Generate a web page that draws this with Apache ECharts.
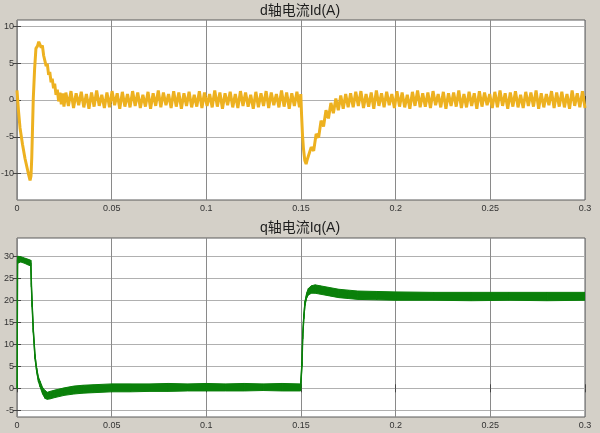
<!DOCTYPE html>
<html><head><meta charset="utf-8">
<script src="https://cdn.jsdelivr.net/npm/echarts@6/dist/echarts.min.js"></script>
<style>html,body{margin:0;padding:0;background:#d4d0c8;}#c{width:600px;height:433px;}</style>
</head><body><div id="c"></div>
<script>
// ---- data ----
const titles = ['d轴电流Id(A)', 'q轴电流Iq(A)'];
const xTicks = [0, 0.05, 0.1, 0.15, 0.2, 0.25, 0.3];
const idTicks = [-10, -5, 0, 5, 10];
const iqTicks = [-5, 0, 5, 10, 15, 20, 25, 30];
const idRange = [-13.57, 10.85];
const iqRange = [-6.52, 34.15];

// Id: start-up transient [t, value]
const idStart = [[0,1.3],[0.0008,-1.5],[0.0016,-3.8],[0.0029,-6.0],[0.0042,-7.9],[0.0055,-9.4],[0.0062,-10.2],[0.0069,-10.9],[0.0074,-10.3],[0.0078,-7.8],[0.0082,-3.8],[0.0086,0.2],[0.0093,4.2],[0.0100,7.0],[0.0108,7.3],[0.0115,7.9],[0.0122,8.1],[0.0128,7.1],[0.0134,7.4],[0.0141,6.0],[0.0147,6.1],[0.0154,4.6],[0.0160,4.9],[0.0167,3.4],[0.0173,3.8],[0.0180,2.4],[0.0186,2.9],[0.0193,1.6],[0.0199,2.2],[0.0206,0.7],[0.0213,1.4],[0.0220,-0.2],[0.0227,1.0],[0.0234,-0.6],[0.0241,0.9],[0.0248,-0.9]];
// Id: steady ripple samples between 0.0258 s and 0.1492 s
const idRippleA = [1.0,-0.8,1.2,-1.1,0.9,-0.7,1.1,-1.0,0.8,-1.2,1.0,-0.9,1.3,-0.8,0.7,-1.1,1.0,-1.0,1.2,-0.7,0.9,-1.2,1.1,-0.9,0.8,-1.0,1.2,-0.8,1.0,-1.1,0.7,-0.9,1.1,-1.2,0.9,-0.8,1.3,-1.0,1.0,-0.7,0.8,-1.1,1.2,-0.9,1.0,-1.2,0.9,-0.8,1.1,-1.0,0.7,-0.9,1.2,-1.1,1.0,-0.8,0.8,-1.0,1.3,-0.9,1.0,-1.2,0.9,-0.7,1.1,-1.0,0.8,-1.1,1.2,-0.8,1.0,-0.9,0.7,-1.2,1.1,-1.0,0.9,-0.8,1.2,-1.1,1.0,-0.7,0.8,-1.0,1.3,-0.9,1.0,-1.2,0.9,-0.8,1.1,-1.0];
const idRippleASpan = [0.0258, 0.1492];
// Id: load-step transient at 0.15 s
const idStep = [[0.1499,0.8],[0.1503,-2.0],[0.1508,-4.8],[0.1513,-6.6],[0.1520,-8.2],[0.1527,-8.7],[0.1534,-8.0],[0.1541,-8.1],[0.1554,-6.4],[0.1567,-6.9],[0.1580,-4.6],[0.1593,-5.1],[0.1606,-2.8],[0.1619,-3.6],[0.1632,-1.4],[0.1645,-2.5],[0.1658,-0.4],[0.1671,-1.8],[0.1684,0.2],[0.1697,-1.4],[0.1710,0.6],[0.1723,-1.2],[0.1736,0.8],[0.1749,-1.0]];
// Id: steady ripple samples between 0.1762 s and 0.3 s
const idRippleB = [0.9,-1.0,1.1,-0.8,1.2,-1.1,0.8,-0.9,1.0,-1.2,1.3,-0.8,0.9,-1.0,1.1,-0.7,0.8,-1.1,1.2,-0.9,1.0,-1.0,0.7,-1.2,1.1,-0.8,1.3,-1.0,0.9,-0.9,1.0,-1.1,1.2,-0.7,0.8,-1.0,1.1,-1.2,0.9,-0.8,1.0,-0.9,1.3,-1.1,0.8,-1.0,1.1,-0.8,0.9,-1.2,1.2,-0.9,1.0,-0.7,0.8,-1.1,1.1,-1.0,1.3,-0.8,0.9,-1.2,1.0,-0.9,1.2,-1.0,0.7,-1.1,1.1,-0.8,1.0,-0.9,1.3,-1.2,0.9,-1.0,0.8,-0.7,1.2,-1.1,1.0,-0.9,1.1,-1.0,0.8,-1.2,1.3,-0.8,0.9,-1.0,1.2,-1.1];
const idRippleBSpan = [0.1762, 0.3];

// Iq: time, lower and upper edge of the ripple band
const iqTime = [0,0.0003,0.002,0.004,0.006,0.0073,0.0076,0.0080,0.0086,0.0095,0.0104,0.0113,0.0122,0.0135,0.0148,0.0160,0.0175,0.020,0.025,0.030,0.035,0.040,0.050,0.060,0.070,0.080,0.090,0.100,0.110,0.120,0.130,0.140,0.1498,0.1505,0.1509,0.1515,0.1521,0.1530,0.1539,0.1555,0.1575,0.160,0.165,0.170,0.175,0.180,0.190,0.200,0.220,0.240,0.260,0.280,0.300];
const iqLow  = [-0.2,28.4,28.7,28.4,28.0,27.8,23.0,18.5,12.7,6.7,3.6,1.5,0.3,-1.3,-2.3,-2.5,-2.4,-2.1,-1.6,-1.3,-1.1,-1.0,-0.8,-0.8,-0.7,-0.7,-0.6,-0.6,-0.6,-0.6,-0.5,-0.6,-0.6,5.0,11.2,15.8,18.8,20.5,21.2,21.6,21.6,21.4,21.0,20.6,20.4,20.2,20.1,20.0,20.0,19.9,20.0,19.9,20.0];
const iqHigh = [0.2,30.0,29.9,29.6,29.3,29.1,24.0,19.5,13.7,7.7,4.6,2.6,1.6,0.2,-0.5,-0.9,-0.7,-0.4,0.1,0.5,0.7,0.8,1.0,1.0,1.0,1.1,1.0,1.1,1.0,1.1,1.0,1.1,1.0,6.0,12.2,16.8,19.8,21.7,22.7,23.3,23.5,23.3,22.9,22.5,22.3,22.1,22.0,21.9,21.8,21.8,21.8,21.8,21.8];

// ---- build series data ----
function spread(vals, span) {
  const n = vals.length, out = [];
  for (let i = 0; i < n; i++) out.push([span[0] + (span[1] - span[0]) * i / (n - 1), vals[i]]);
  return out;
}
const idData = [].concat(idStart, spread(idRippleA, idRippleASpan), idStep, spread(idRippleB, idRippleBSpan));
const iqBandData = [];
for (let i = 0; i < iqTime.length - 1; i++) {
  iqBandData.push([iqTime[i], iqLow[i], iqHigh[i], iqTime[i + 1], iqLow[i + 1], iqHigh[i + 1]]);
}
const iqMidData = iqTime.map((t, i) => [t, (iqHigh[i] + iqLow[i]) / 2]);

const GREEN = '#0a800a';
const ORANGE = '#EDB120';
const FONT = "'Liberation Sans', Arial, 'Noto Sans CJK SC', sans-serif";
const grids = [
  {left: 17, top: 20, width: 568, height: 180},
  {left: 17, top: 238, width: 568, height: 179}
].map(g => Object.assign({show: true, backgroundColor: '#ffffff', borderColor: '#5a5a5a', borderWidth: 1, containLabel: false, outerBoundsMode: 'none'}, g));

function xAx(gi, bottom) {
  return {
    type: 'value', gridIndex: gi, min: 0, max: 0.3, interval: 0.05,
    position: bottom ? 'bottom' : 'top',
    axisLine: {show: false},
    axisTick: {show: true, inside: true, length: 4, lineStyle: {color: '#444'}},
    axisLabel: {show: bottom, fontSize: 9, color: '#333', fontFamily: FONT, margin: 4},
    splitLine: {show: bottom, lineStyle: {color: '#8a8a8a', width: 1}}
  };
}
function yAx(gi, range, ticks, left) {
  return {
    type: 'value', gridIndex: gi, min: range[0], max: range[1],
    position: left ? 'left' : 'right',
    axisLine: {show: false},
    axisTick: {show: true, inside: true, length: 4, customValues: ticks, lineStyle: {color: '#444'}},
    axisLabel: {show: left, customValues: ticks, fontSize: 9, color: '#333', fontFamily: FONT, margin: 3},
    splitLine: {show: left, customValues: ticks, lineStyle: {color: '#b0b0b0', width: 1}}
  };
}

const option = {
  animation: false,
  backgroundColor: '#d4d0c8',
  title: [
    {text: titles[0], left: 'center', top: 4, padding: 0, textStyle: {fontSize: 14, fontWeight: 'normal', color: '#1e1e1e', fontFamily: FONT}},
    {text: titles[1], left: 'center', top: 221, padding: 0, textStyle: {fontSize: 14, fontWeight: 'normal', color: '#1e1e1e', fontFamily: FONT}}
  ],
  grid: grids,
  xAxis: [xAx(0, true), xAx(0, false), xAx(1, true), xAx(1, false)],
  yAxis: [yAx(0, idRange, idTicks, true), yAx(0, idRange, idTicks, false), yAx(1, iqRange, iqTicks, true), yAx(1, iqRange, iqTicks, false)],
  series: [
    {type: 'line', xAxisIndex: 0, yAxisIndex: 0, data: idData, showSymbol: false, symbol: 'none',
     lineStyle: {color: ORANGE, width: 3, join: 'bevel'}, itemStyle: {color: ORANGE}},
    {type: 'custom', xAxisIndex: 2, yAxisIndex: 2, data: iqBandData, clip: true,
     encode: {x: [0, 3], y: [1, 2, 4, 5]},
     renderItem: function (params, api) {
       const a = api.coord([api.value(0), api.value(1)]);
       const b = api.coord([api.value(3), api.value(4)]);
       const c = api.coord([api.value(3), api.value(5)]);
       const d = api.coord([api.value(0), api.value(2)]);
       return {type: 'polygon', shape: {points: [a, b, c, d]}, style: {fill: GREEN, stroke: GREEN, lineWidth: 1}};
     }},
    {type: 'line', xAxisIndex: 2, yAxisIndex: 2, data: iqMidData, symbol: 'none',
     lineStyle: {color: GREEN, width: 1.5}}
  ]
};
const chart = echarts.init(document.getElementById('c'), null, {renderer: 'canvas'});
chart.setOption(option);
</script></body></html>
